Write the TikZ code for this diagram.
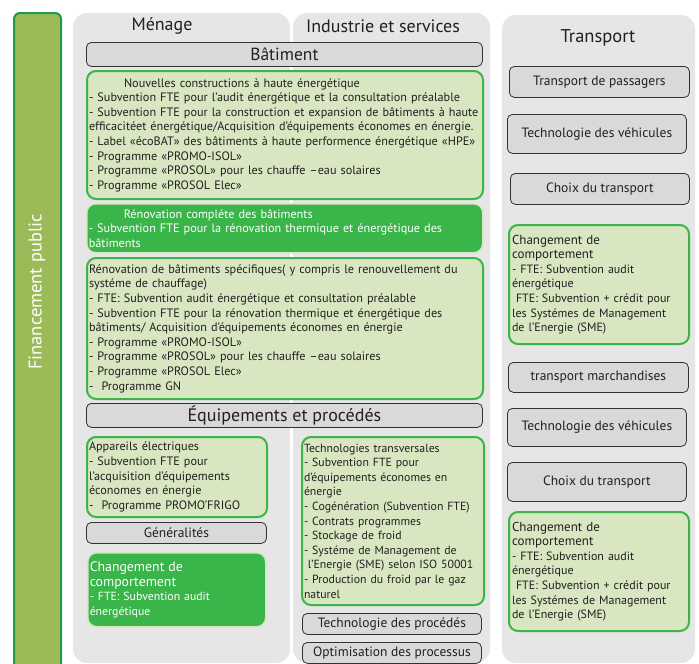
\documentclass[tikz,border=0pt]{standalone}
\usepackage{fontspec}
\setmainfont{PT Sans}
\usetikzlibrary{positioning}
\definecolor{panelgray}{RGB}{230,230,230}
\definecolor{boxgray}{RGB}{217,217,217}
\definecolor{boxline}{RGB}{50,50,50}
\definecolor{lightg}{RGB}{216,230,193}
\definecolor{lineg}{RGB}{60,180,74}
\definecolor{darkg}{RGB}{58,181,74}
\definecolor{barg}{RGB}{155,187,89}
\definecolor{barline}{RGB}{30,154,72}
\definecolor{txt}{RGB}{35,31,32}
\tikzset{
    panel/.style={
        fill=panelgray,
        draw=none,
        rounded corners=14pt,
    },
    heading/.style={
        font=\fontsize{18}{20}\selectfont,
        text=txt,
    },
    labelbox/.style={
        draw=boxline,
        fill=boxgray,
        line width=0.8pt,
        rounded corners=5pt,
        anchor=north west,
        inner sep=0pt,
        text=txt,
        font=\fontsize{13.5}{15}\selectfont,
    },
    greenbox/.style={
        draw=lineg,
        fill=lightg,
        line width=2pt,
        rounded corners=9pt,
        anchor=north west,
        inner xsep=2pt,
        inner ysep=0pt,
        align=left,
        text=txt,
        font=\fontsize{12.2}{14.6}\selectfont,
    },
    darkbox/.style={
        greenbox,
        draw=lightg,
        fill=darkg,
        line width=1.5pt,
        text=white,
    },
}

\begin{document}
\begin{tikzpicture}[x=1pt,y=-1pt]
    \useasboundingbox (0,0) rectangle (699,664);
    % fond
    \fill[barg] (14,664) [rounded corners=6pt] -- (14,13) -- (61,13) [sharp corners] -- (61,664);
    \draw[barline,line width=2pt] (14,664) [rounded corners=6pt] -- (14,13) -- (61,13) [sharp corners] -- (61,664);
    \node[rotate=90,text=white,font=\fontsize{18.5}{20}\selectfont] (fin) at (37,292) {Financement public};
    \fill[panel] (73,13) rectangle (290,663);
    \fill[panel] (293,13) rectangle (490,663);
    \fill[panel] (502,15) rectangle (695,663);
    \node[heading] (menage) at (162,26) {Ménage};
    \node[heading] (indus) at (383,26) {Industrie et services};
    \node[heading,font=\fontsize{18.5}{20}\selectfont] (transp) at (598,38) {Transport};

    % Ménage / Industrie
    \node[labelbox,minimum width=396,minimum height=24,font=\fontsize{17.5}{19}\selectfont] (bat) at (86,42) {Bâtiment};
    \node[greenbox,text width=392,minimum height=128] (nouv) at (86,70) {\hspace*{35pt}Nouvelles constructions à haute énergétique\\
        - Subvention FTE pour l’audit énergétique et la consultation préalable\\
        - Subvention FTE pour la construction et expansion de bâtiments à haute\\
        efficacitéet énergétique/Acquisition d’équipements économes en énergie.\\
        - Label «écoBAT» des bâtiments à haute performence énergétique «HPE»\\
        - Programme «PROMO-ISOL»\\
        - Programme «PROSOL» pour les chauffe –eau solaires\\
        - Programme «PROSOL Elec»};
    \node[darkbox,text width=392,minimum height=49] (renov) at (86,203) {\hspace*{35pt}Rénovation compléte des bâtiments\\
        - Subvention FTE pour la rénovation thermique et énergétique des\\
        bâtiments};
    \node[greenbox,text width=392,minimum height=141] (renspec) at (86,257) {Rénovation de bâtiments spécifiques( y compris le renouvellement du\\
        systéme de chauffage)\\
        - FTE: Subvention audit énergétique et consultation préalable\\
        - Subvention FTE pour la rénovation thermique et énergétique des\\
        bâtiments/ Acquisition d’équipements économes en énergie\\
        - Programme «PROMO-ISOL»\\
        - Programme «PROSOL» pour les chauffe –eau solaires\\
        - Programme «PROSOL Elec»\\
        -\ \ Programme GN};
    \node[labelbox,minimum width=396,minimum height=24,font=\fontsize{18}{20}\selectfont] (equip) at (86,403) {Équipements et procédés};
    \node[greenbox,text width=176,minimum height=80] (appar) at (86,436) {Appareils électriques\\
        - Subvention FTE pour\\
        l’acquisition d’équipements\\
        économes en énergie\\
        -\ \ Programme PROMO’FRIGO};
    \node[labelbox,minimum width=180,minimum height=21] (gen) at (86,522) {Généralités};
    \node[darkbox,text width=174,minimum height=74,font=\fontsize{11.8}{14.6}\selectfont] (compm) at (87,552) {{\fontsize{13.8}{16}\selectfont Changement de\\ comportement}\\
        - FTE: Subvention audit\\
        énergétique};
    \node[greenbox,text width=178,minimum height=168,font=\fontsize{11.8}{14.6}\selectfont] (transv) at (301,436) {Technologies transversales\\
        - Subvention FTE pour\\
        d’équipements économes en\\
        énergie\\
        - Cogénération (Subvention FTE)\\
        - Contrats programmes\\
        - Stockage de froid\\
        - Systéme de Management de\\
        \ l’Energie (SME) selon ISO 50001\\
        - Production du froid par le gaz\\
        naturel};
    \node[labelbox,minimum width=179,minimum height=21] (proc) at (302,613) {Technologie des procédés};
    \node[labelbox,minimum width=179,minimum height=21] (optim) at (302,642) {Optimisation des processus};

    % Transport
    \node[labelbox,minimum width=180,minimum height=31] (pass) at (509,66) {Transport de passagers};
    \node[labelbox,minimum width=179,minimum height=39] (veh1) at (507,114) {Technologie des véhicules};
    \node[labelbox,minimum width=179,minimum height=31] (choix1) at (510,173) {Choix du transport};
    \node[greenbox,inner xsep=3pt,text width=174,minimum height=119,font=\fontsize{12}{14.6}\selectfont] (compt1) at (508,224) {{\fontsize{13}{15}\selectfont Changement de\\ comportement}\\
        - FTE: Subvention audit\\
        énergétique\\
        \ FTE: Subvention + crédit pour\\
        les Systémes de Management\\
        de l’Energie (SME)};
    \node[labelbox,minimum width=180,minimum height=30] (march) at (508,362) {transport marchandises};
    \node[labelbox,minimum width=179,minimum height=38] (veh2) at (507,408) {Technologie des véhicules};
    \node[labelbox,minimum width=179,minimum height=39] (choix2) at (507,462) {Choix du transport};
    \node[greenbox,inner xsep=3pt,text width=174,minimum height=119,font=\fontsize{12}{14.6}\selectfont] (compt2) at (508,511) {{\fontsize{13}{15}\selectfont Changement de\\ comportement}\\
        - FTE: Subvention audit\\
        énergétique\\
        \ FTE: Subvention + crédit pour\\
        les Systémes de Management\\
        de l’Energie (SME)};
\end{tikzpicture}
\end{document}
